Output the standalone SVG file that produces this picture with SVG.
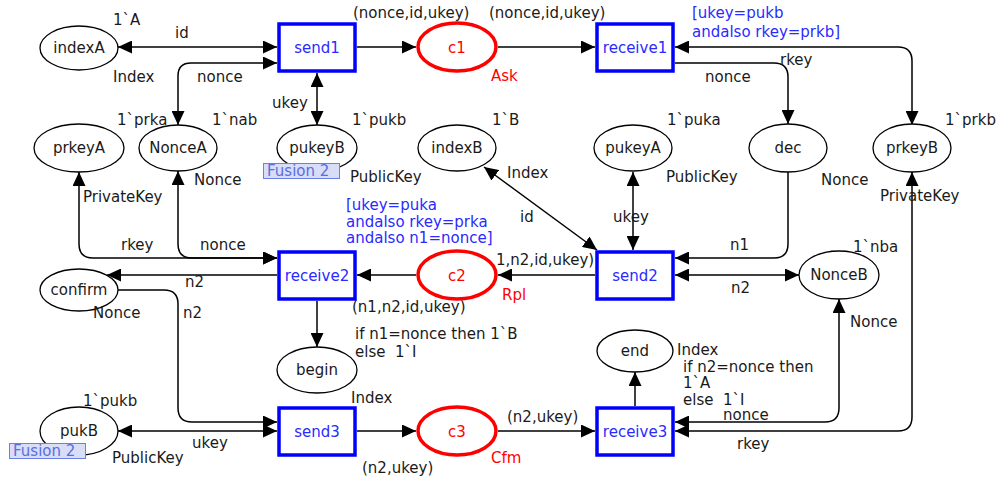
<svg xmlns="http://www.w3.org/2000/svg" width="1000" height="481" viewBox="0 0 1000 481">
<defs>
<marker id="ah" viewBox="0 0 14 13" refX="14" refY="6.5" markerWidth="14" markerHeight="13" markerUnits="userSpaceOnUse" orient="auto-start-reverse"><path d="M0,0 L14,6.5 L0,13 z" fill="#000"/></marker>
</defs>
<style>
text{font-family:"DejaVu Sans",Verdana,sans-serif;font-size:15px;fill:#1a1a1a;white-space:pre}
.pl{fill:#fff;stroke:#000;stroke-width:1.3}
.cp{fill:#fff;stroke:#f00;stroke-width:3.5}
.tr{fill:#fff;stroke:#00f;stroke-width:3.5}
.m{text-anchor:middle}
.arc{fill:none;stroke:#000;stroke-width:1.5;marker-end:url(#ah)}
.bi{marker-start:url(#ah)}
.tn{fill:#2a2aff;text-anchor:middle}
.rn{fill:#f00}
.g{fill:#2a2aff}
.fb{fill:#d8ddf8;stroke:#6c7fe6;stroke-width:1}
.ft{fill:#5a6ee0;font-size:15px}
</style>
<rect width="1000" height="481" fill="#fff"/>
<g id="connectors">
<path class="arc bi" d="M118,47 H277"/>
<path class="arc bi" d="M178,125 V76 Q178,63 191,63 H277"/>
<path class="arc bi" d="M317,125 V73"/>
<path class="arc" d="M357,47 H416"/>
<path class="arc" d="M498,47 H595"/>
<path class="arc bi" d="M675,47 H898 Q912,47 912,61 V125"/>
<path class="arc" d="M675,63 H774 Q788,63 788,77 V124"/>
<path class="arc bi" d="M79,172 V244 Q79,258 93,258 H277"/>
<path class="arc bi" d="M178,171 V244 Q178,258 192,258 H277"/>
<path class="arc" d="M277,275 H107"/>
<path class="arc" d="M118,290 H164 Q178,290 178,304 V408 Q178,422 192,422 H277"/>
<path class="arc bi" d="M118,431 H277"/>
<path class="arc" d="M317,301 V347"/>
<path class="arc" d="M416,275 H357"/>
<path class="arc" d="M595,275 H498"/>
<path class="arc bi" d="M484,167 L597,250"/>
<path class="arc bi" d="M633,172 V250"/>
<path class="arc" d="M788,172 V244 Q788,258 774,258 H675"/>
<path class="arc bi" d="M675,275 H799"/>
<path class="arc bi" d="M839,299 V408 Q839,422 825,422 H675"/>
<path class="arc bi" d="M912,172 V417 Q912,431 898,431 H675"/>
<path class="arc" d="M635,406 V372"/>
<path class="arc" d="M357,431 H416"/>
<path class="arc" d="M498,431 H595"/>
<text x="175" y="38">id</text>
<text x="197" y="82">nonce</text>
<text x="272" y="108">ukey</text>
<text x="353" y="18">(nonce,id,ukey)</text>
<text x="489" y="18">(nonce,id,ukey)</text>
<text x="780" y="65">rkey</text>
<text x="705" y="82">nonce</text>
<text x="121" y="250">rkey</text>
<text x="200" y="250">nonce</text>
<text x="185" y="287">n2</text>
<text x="183" y="318">n2</text>
<text x="520" y="222">id</text>
<text x="613" y="222">ukey</text>
<text x="496" y="265">1,n2,id,ukey)</text>
<text x="352" y="312">(n1,n2,id,ukey)</text>
<text x="355" y="339">if n1=nonce then 1`B</text>
<text x="355" y="357">else  1`I</text>
<text x="730" y="250">n1</text>
<text x="731" y="293">n2</text>
<text x="192" y="448">ukey</text>
<text x="507" y="422">(n2,ukey)</text>
<text x="362" y="473">(n2,ukey)</text>
<text x="683" y="372">if n2=nonce then</text>
<text x="683" y="388">1`A</text>
<text x="683" y="405">else  1`I</text>
<text x="723" y="420">nonce</text>
<text x="737" y="449">rkey</text>
</g>
<g id="indexA"><ellipse class="pl" cx="79" cy="48" rx="39" ry="22"/><text class="m" x="79" y="53">indexA</text><text x="113" y="25">1`A</text><text x="113" y="82">Index</text></g>
<g id="send1"><rect class="tr" x="279" y="24" width="76" height="47"/><text class="tn" x="317" y="53">send1</text></g>
<g id="c1"><ellipse class="cp" cx="457" cy="47" rx="39" ry="24"/><text class="m rn" x="457" y="53">c1</text><text class="rn" x="491" y="81">Ask</text></g>
<g id="receive1"><rect class="tr" x="597" y="24" width="76" height="47"/><text class="tn" x="635" y="53">receive1</text><text class="g" x="692" y="18">[ukey=pukb</text><text class="g" x="692" y="37">andalso rkey=prkb]</text></g>
<g id="prkeyA"><ellipse class="pl" cx="79" cy="148" rx="45" ry="24"/><text class="m" x="79" y="153">prkeyA</text><text x="83" y="202">PrivateKey</text></g>
<g id="NonceA"><ellipse class="pl" cx="178" cy="148" rx="39" ry="23"/><text class="m" x="178" y="153">NonceA</text><text x="117" y="125">1`prka</text><text x="212" y="125">1`nab</text><text x="194" y="185">Nonce</text></g>
<g id="pukeyB"><ellipse class="pl" cx="317" cy="148" rx="40" ry="23"/><text class="m" x="317" y="153">pukeyB</text><text x="352" y="125">1`pukb</text><text x="350" y="182">PublicKey</text><rect class="fb" x="263.5" y="163.5" width="76" height="15"/><text class="ft" x="267" y="176">Fusion 2</text></g>
<g id="indexB"><ellipse class="pl" cx="457" cy="148" rx="39" ry="23"/><text class="m" x="457" y="153">indexB</text><text x="492" y="125">1`B</text><text x="507" y="178">Index</text></g>
<g id="pukeyA"><ellipse class="pl" cx="633" cy="148" rx="39" ry="23"/><text class="m" x="633" y="153">pukeyA</text><text x="667" y="125">1`puka</text><text x="666" y="182">PublicKey</text></g>
<g id="dec"><ellipse class="pl" cx="788" cy="148" rx="39" ry="24"/><text class="m" x="788" y="153">dec</text><text x="821" y="185">Nonce</text></g>
<g id="prkeyB"><ellipse class="pl" cx="912" cy="148" rx="39" ry="24"/><text class="m" x="912" y="153">prkeyB</text><text x="945" y="125">1`prkb</text><text x="880" y="201">PrivateKey</text></g>
<g id="confirm"><ellipse class="pl" cx="79" cy="290" rx="39" ry="21"/><text class="m" x="79" y="295">confirm</text><text x="93" y="318">Nonce</text></g>
<g id="receive2"><rect class="tr" x="279" y="252" width="76" height="47"/><text class="tn" x="317" y="281">receive2</text><text class="g" x="346" y="210">[ukey=puka</text><text class="g" x="346" y="227">andalso rkey=prka</text><text class="g" x="346" y="243">andalso n1=nonce]</text></g>
<g id="c2"><ellipse class="cp" cx="457" cy="275" rx="39" ry="24"/><text class="m rn" x="457" y="281">c2</text><text class="rn" x="502" y="300">Rpl</text></g>
<g id="send2"><rect class="tr" x="597" y="252" width="76" height="47"/><text class="tn" x="635" y="281">send2</text></g>
<g id="NonceB"><ellipse class="pl" cx="839" cy="275" rx="40" ry="24"/><text class="m" x="839" y="280">NonceB</text><text x="853" y="252">1`nba</text><text x="850" y="327">Nonce</text></g>
<g id="begin"><ellipse class="pl" cx="317" cy="370" rx="40" ry="23"/><text class="m" x="317" y="375">begin</text><text x="351" y="403">Index</text></g>
<g id="end"><ellipse class="pl" cx="635" cy="351" rx="38" ry="21"/><text class="m" x="635" y="356">end</text><text x="677" y="355">Index</text></g>
<g id="pukB"><ellipse class="pl" cx="79" cy="431" rx="39" ry="24"/><text class="m" x="79" y="436">pukB</text><text x="83" y="406">1`pukb</text><text x="112" y="463">PublicKey</text><rect class="fb" x="9.5" y="443.5" width="76" height="15"/><text class="ft" x="13" y="456">Fusion 2</text></g>
<g id="send3"><rect class="tr" x="279" y="408" width="76" height="47"/><text class="tn" x="317" y="437">send3</text></g>
<g id="c3"><ellipse class="cp" cx="457" cy="431" rx="39" ry="24"/><text class="m rn" x="457" y="437">c3</text><text class="rn" x="491" y="463">Cfm</text></g>
<g id="receive3"><rect class="tr" x="597" y="408" width="76" height="47"/><text class="tn" x="635" y="437">receive3</text></g>
</svg>
